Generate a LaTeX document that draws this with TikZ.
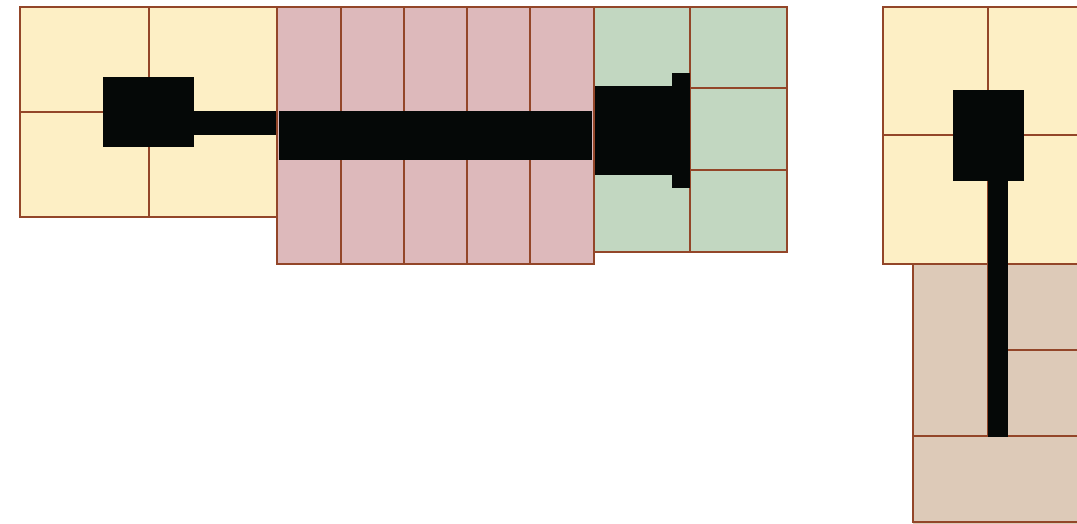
\documentclass[tikz,border=0pt]{standalone}
\definecolor{ylw}{HTML}{FDEFC5}
\definecolor{pnk}{HTML}{DDB9BB}
\definecolor{grn}{HTML}{C2D7C1}
\definecolor{brn}{HTML}{DDCAB8}
\definecolor{edge}{HTML}{934629}
\definecolor{blk}{HTML}{050807}
\tikzset{
  outer/.style={draw=edge, line width=2.9pt},
  inner/.style={draw=edge, line width=1.5pt},
  solid block/.style={fill=blk, draw=none},
}
\begin{document}
\begin{tikzpicture}[x=1pt,y=-1pt]
\useasboundingbox (0,0) rectangle (1077,524);
\clip (0,0) rectangle (1077,524);
% fills
\fill[ylw] (20,7) rectangle (277,217);
\fill[pnk] (277,7) rectangle (594,264);
\fill[grn] (594,7) rectangle (787,252);
\fill[ylw] (883,7) rectangle (1090,264);
\fill[brn] (913,264) rectangle (1090,530);
% inner lines
\draw[inner] (149,7) -- (149,217);
\draw[inner] (20,112) -- (277,112);
\foreach \x in {341,404,467,530} \draw[inner] (\x,7) -- (\x,264);
\draw[inner] (690,7) -- (690,252);
\draw[inner] (690,88) -- (787,88);
\draw[inner] (690,170) -- (787,170);
\draw[inner] (988,7) -- (988,264);
\draw[inner] (883,135) -- (1090,135);
\draw[inner] (988,264) -- (988,436);
\draw[inner] (913,436) -- (1090,436);
\draw[inner] (1008,350) -- (1090,350);
% black shapes (left)
\fill[solid block] (103,77) rectangle (194,147);
\fill[solid block] (194,111) rectangle (277,135);
\fill[solid block] (279,111) rectangle (592,160);
\fill[solid block] (595,86) rectangle (690,175);
\fill[solid block] (672,73) rectangle (690,188);
% outer borders
\draw[outer] (20,7) rectangle (277,217);
\draw[outer] (277,7) rectangle (594,264);
\draw[outer] (594,7) rectangle (787,252);
\draw[outer] (883,7) rectangle (1090,264);
\draw[outer] (913,264) rectangle (1090,522);
% black shapes (right)
\fill[solid block] (953,90) rectangle (1024,181);
\fill[solid block] (988,181) rectangle (1008,437);
\end{tikzpicture}
\end{document}
